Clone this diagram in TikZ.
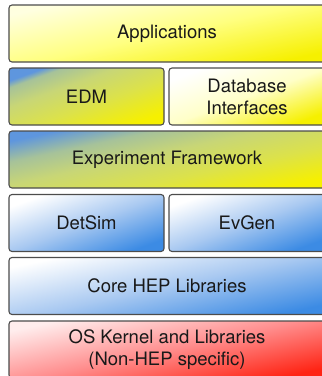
\documentclass[tikz,border=0pt]{standalone}
\usepackage{fontspec}
\setmainfont{TeX Gyre Heros}
\definecolor{yellowE}{HTML}{F6F000}
\definecolor{yellowM}{HTML}{FFFF80}
\definecolor{yellowT}{HTML}{FFFFE0}
\definecolor{paleM}{HTML}{FFFFC8}
\definecolor{blueE}{HTML}{3C8BE4}
\definecolor{blueM}{HTML}{A9C9F1}
\definecolor{oliveA}{HTML}{DCE24A}
\definecolor{oliveM}{HTML}{C8D676}
\definecolor{oliveB}{HTML}{A6C29A}
\definecolor{blueT}{HTML}{5E96DE}
\definecolor{redT}{HTML}{FFEDED}
\definecolor{redM}{HTML}{FF8E8E}
\definecolor{redE}{HTML}{FF2414}
\pgfdeclareverticalshading{appsh}{100bp}{color(0bp)=(yellowE); color(25bp)=(yellowE); color(50bp)=(yellowM); color(75bp)=(yellowT); color(100bp)=(yellowT)}
\pgfdeclareverticalshading{dbsh}{100bp}{color(0bp)=(yellowE); color(25bp)=(yellowE); color(50bp)=(paleM); color(75bp)=(white); color(100bp)=(white)}
\pgfdeclareverticalshading{edmsh}{100bp}{color(0bp)=(yellowE); color(25bp)=(yellowE); color(44bp)=(oliveA); color(60bp)=(oliveM); color(71bp)=(oliveB); color(75bp)=(blueT); color(100bp)=(blueT)}
\pgfdeclareverticalshading{expsh}{100bp}{color(0bp)=(yellowE); color(25bp)=(yellowE); color(40bp)=(oliveA); color(54bp)=(oliveM); color(65bp)=(oliveB); color(75bp)=(blueT); color(100bp)=(blueT)}
\pgfdeclareverticalshading{blush}{100bp}{color(0bp)=(blueE); color(25bp)=(blueE); color(50bp)=(blueM); color(75bp)=(white); color(100bp)=(white)}
\pgfdeclareverticalshading{redsh}{100bp}{color(0bp)=(redE); color(25bp)=(redE); color(50bp)=(redM); color(75bp)=(redT); color(100bp)=(redT)}
\begin{document}
\begin{tikzpicture}[x=1pt,y=-1pt,
  layer/.style={draw=black!70, line width=1.1pt, rounded corners=3pt, inner sep=0pt,
    minimum height=57pt, align=center, font=\fontsize{18.5}{22}\selectfont, text=black!90},
  wide/.style={layer, minimum width=316pt, shading angle=12},
  half/.style={layer, minimum width=155pt, shading angle=20},
  halfr/.style={layer, minimum width=156pt, shading angle=20},
  apps sh/.style={shade, shading=appsh},
  db sh/.style={shade, shading=dbsh},
  edm sh/.style={shade, shading=edmsh},
  exp sh/.style={shade, shading=expsh},
  blue sh/.style={shade, shading=blush},
  red sh/.style={shade, shading=redsh},
]
\useasboundingbox (0,0) rectangle (322,376);
\clip (0,0) rectangle (322,376);
\node[wide, apps sh]  (apps)   at (167,33.5)  {Applications};
\node[half, edm sh]   (edm)    at (86.5,96.5) {EDM};
\node[halfr, db sh]   (db)     at (247,96.5)  {Database\\Interfaces};
\node[wide, exp sh]   (exp)    at (167,159.5) {Experiment Framework};
\node[half, blue sh]  (detsim) at (86.5,223)  {DetSim};
\node[halfr, blue sh] (evgen)  at (247,223)   {EvGen};
\node[wide, blue sh]  (core)   at (167,286)   {Core HEP Libraries};
\node[wide, red sh]   (os)     at (167,349.5) {OS Kernel and Libraries\\(Non-HEP specific)};
\end{tikzpicture}
\end{document}
